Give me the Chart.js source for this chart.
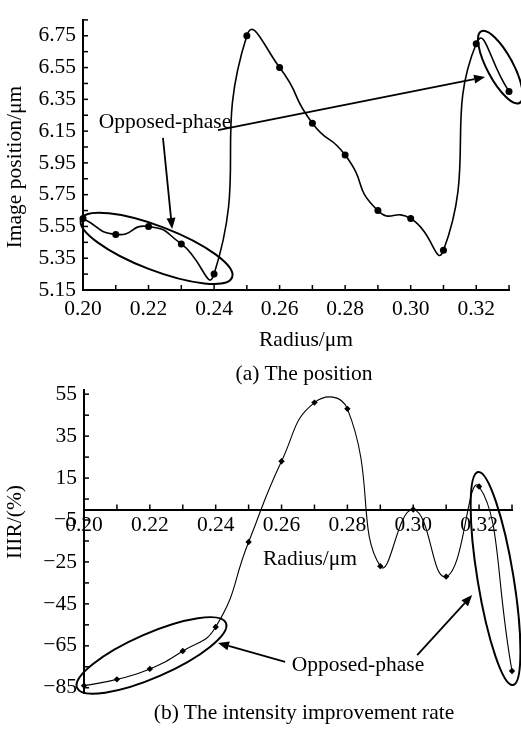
<!DOCTYPE html>
<html>
<head>
<meta charset="utf-8">
<script src="https://cdn.jsdelivr.net/npm/chart.js@4.4.0/dist/chart.umd.min.js"></script>
<style>
  body { margin: 0; background: #fff; }
  #wrap { position: relative; width: 521px; height: 733px; font-family: "Liberation Serif", "Times New Roman", serif; }
  canvas { position: absolute; left: 0; }
  #posChart { top: 0; }
  #iirChart { top: 370px; }
  .cap { position: absolute; font-size: 21.5px; line-height: 24px; white-space: nowrap; transform: translateX(-50%); z-index: 2; }
</style>
</head>
<body>
<div id="wrap">
  <canvas id="posChart" width="521" height="370"></canvas>
  <canvas id="iirChart" width="521" height="363"></canvas>
  <div class="cap" style="left:304px; top:361px;">(a) The position</div>
  <div class="cap" style="left:304px; top:700px;">(b) The intensity improvement rate</div>
</div>
<script>
// --- data ---
const radius = [0.20, 0.21, 0.22, 0.23, 0.24, 0.25, 0.26, 0.27, 0.28, 0.29, 0.30, 0.31, 0.32, 0.33];
const imagePosition = [5.60, 5.50, 5.55, 5.44, 5.25, 6.75, 6.55, 6.20, 6.00, 5.65, 5.60, 5.40, 6.70, 6.40];
const iirValues = [-84, -81, -76, -67.5, -56, -15.5, 23, 51, 48, -27, 0, -32, 11, -77];

const radiusTicks = [0.20, 0.21, 0.22, 0.23, 0.24, 0.25, 0.26, 0.27, 0.28, 0.29, 0.30, 0.31, 0.32, 0.33];
const positionTicks = [5.15, 5.25, 5.35, 5.45, 5.55, 5.65, 5.75, 5.85, 5.95, 6.05, 6.15, 6.25, 6.35, 6.45, 6.55, 6.65, 6.75, 6.85];
const iirTicks = [-85, -75, -65, -55, -45, -35, -25, -15, -5, 5, 15, 25, 35, 45, 55];

const FONT = '"Liberation Serif", "Times New Roman", serif';
const FONT_SIZE = 21.5;
Chart.defaults.font.family = FONT;
Chart.defaults.font.size = FONT_SIZE;
Chart.defaults.color = "#000";

const toPoints = (xs, ys) => xs.map((x, i) => ({ x, y: ys[i] }));
const radiusLabel = (v) => (Math.round(v * 100) % 2 === 0 ? v.toFixed(2) : "");

// --- inward tick marks, axis titles, ellipses and arrows ---
const notesPlugin = {
  id: "notes",
  afterDraw(chart, args, opts) {
    const { ctx, chartArea, scales } = chart;
    const xs = scales.x, ys = scales.y;
    const px = (p) => [xs.getPixelForValue(p[0]), ys.getPixelForValue(p[1])];
    ctx.save();
    ctx.strokeStyle = "#000";
    ctx.fillStyle = "#000";

    // ticks
    ctx.lineWidth = 1.5;
    const axisY = opts.xAxisAt === undefined ? chartArea.bottom : ys.getPixelForValue(opts.xAxisAt);
    xs.ticks.forEach((t) => {
      const x = xs.getPixelForValue(t.value);
      ctx.beginPath(); ctx.moveTo(x, axisY); ctx.lineTo(x, axisY - 5); ctx.stroke();
    });
    ys.ticks.forEach((t) => {
      const y = ys.getPixelForValue(t.value);
      ctx.beginPath(); ctx.moveTo(chartArea.left, y); ctx.lineTo(chartArea.left + 5, y); ctx.stroke();
    });

    // ellipses
    ctx.lineWidth = 2;
    (opts.ellipses || []).forEach((e) => {
      const [x1, y1] = px(e.from), [x2, y2] = px(e.to);
      const a = Math.hypot(x2 - x1, y2 - y1) / 2;
      ctx.beginPath();
      ctx.ellipse((x1 + x2) / 2, (y1 + y2) / 2, a, e.minor, Math.atan2(y2 - y1, x2 - x1), 0, Math.PI * 2);
      ctx.stroke();
    });

    // arrows
    ctx.lineWidth = 1.8;
    (opts.arrows || []).forEach((a) => {
      const [x1, y1] = px(a.from), [x2, y2] = px(a.to);
      const ang = Math.atan2(y2 - y1, x2 - x1);
      const hx = x2 - 11 * Math.cos(ang), hy = y2 - 11 * Math.sin(ang);
      ctx.beginPath(); ctx.moveTo(x1, y1); ctx.lineTo(hx, hy); ctx.stroke();
      ctx.beginPath();
      ctx.moveTo(x2, y2);
      ctx.lineTo(hx + 4.5 * Math.sin(ang), hy - 4.5 * Math.cos(ang));
      ctx.lineTo(hx - 4.5 * Math.sin(ang), hy + 4.5 * Math.cos(ang));
      ctx.closePath(); ctx.fill();
    });

    // texts
    ctx.font = FONT_SIZE + "px " + FONT;
    ctx.textAlign = "center";
    ctx.textBaseline = "middle";
    (opts.labels || []).forEach((l) => {
      const [x, y] = px(l.at);
      ctx.fillText(l.text, x, y);
    });
    (opts.titles || []).forEach((t) => {
      ctx.save();
      ctx.translate(t.x, t.y);
      if (t.vertical) ctx.rotate(-Math.PI / 2);
      ctx.fillText(t.text, 0, 0);
      ctx.restore();
    });
    ctx.restore();
  },
};

const radiusAxis = (extra) => Object.assign({
  type: "linear",
  min: 0.20,
  max: 0.33,
  grid: { display: false, drawTicks: false },
  border: { display: true, color: "#000", width: 2 },
  afterBuildTicks: (s) => { s.ticks = radiusTicks.map((value) => ({ value })); },
}, extra);

// --- (a) image position ---
new Chart(document.getElementById("posChart"), {
  type: "line",
  data: {
    datasets: [{
      data: toPoints(radius, imagePosition),
      borderColor: "#000",
      borderWidth: 1.6,
      tension: 0.6,
      pointRadius: 3.5,
      pointBackgroundColor: "#000",
      pointBorderWidth: 0,
      clip: false,
    }],
  },
  options: {
    responsive: false,
    animation: false,
    events: [],
    layout: { padding: { top: 11, right: 12, left: 0, bottom: 0 } },
    elements: { line: { capBezierPoints: false } },
    plugins: {
      legend: { display: false },
      tooltip: { enabled: false },
      notes: {
        ellipses: [
          { from: [0.1994, 5.595], to: [0.2455, 5.229], minor: 22 },
          { from: [0.3215, 6.778], to: [0.3332, 6.327], minor: 13 },
        ],
        arrows: [
          { from: [0.2244, 6.107], to: [0.2272, 5.534] },
          { from: [0.2412, 6.156], to: [0.3227, 6.491] },
        ],
        labels: [{ text: "Opposed-phase", at: [0.2250, 6.205] }],
        titles: [
          { text: "Radius/\u03bcm", x: 306, y: 340 },
          { text: "Image position/\u03bcm", x: 15, y: 167, vertical: true },
        ],
      },
    },
    scales: {
      x: radiusAxis({
        position: "bottom",
        afterFit: (s) => { s.height = 80; },
        ticks: { autoSkip: false, maxRotation: 0, padding: 6, callback: radiusLabel },
      }),
      y: {
        type: "linear",
        min: 5.15,
        max: 6.85,
        grid: { display: false, drawTicks: false },
        border: { display: true, color: "#000", width: 2 },
        afterBuildTicks: (s) => { s.ticks = positionTicks.map((value) => ({ value })); },
        afterFit: (s) => { s.width = 83; },
        ticks: {
          autoSkip: false,
          padding: 7,
          callback: (v) => (Math.round((v - 5.15) * 10) % 2 === 0 ? v.toFixed(2) : ""),
        },
      },
    },
  },
  plugins: [notesPlugin],
});

// --- (b) intensity improvement rate ---
new Chart(document.getElementById("iirChart"), {
  type: "line",
  data: {
    datasets: [{
      data: toPoints(radius, iirValues),
      borderColor: "#000",
      borderWidth: 1.1,
      tension: 0.5,
      pointStyle: "rectRot",
      pointRadius: 3.2,
      pointBackgroundColor: "#000",
      pointBorderWidth: 0,
      clip: false,
    }],
  },
  options: {
    responsive: false,
    animation: false,
    events: [],
    layout: { padding: { top: 20, right: 9, left: 0, bottom: 40 } },
    elements: { line: { capBezierPoints: false } },
    plugins: {
      legend: { display: false },
      tooltip: { enabled: false },
      notes: {
        xAxisAt: 0,
        ellipses: [
          { from: [0.1979, -85.1], to: [0.2431, -54.1], minor: 22 },
          { from: [0.3197, 17.9], to: [0.3303, -83.7], minor: 18 },
        ],
        arrows: [
          { from: [0.2611, -72.7], to: [0.2407, -63.6] },
          { from: [0.3012, -69.4], to: [0.3179, -40.8] },
        ],
        labels: [{ text: "Opposed-phase", at: [0.2832, -74.1] }],
        titles: [
          { text: "Radius/\u03bcm", x: 310, y: 189 },
          { text: "IIIR/(%)", x: 15, y: 152, vertical: true },
        ],
      },
    },
    scales: {
      x: radiusAxis({
        position: { y: 0 },
        ticks: { autoSkip: false, maxRotation: 0, padding: 3, callback: radiusLabel },
      }),
      y: {
        type: "linear",
        min: -87.5,
        max: 57,
        grid: { display: false, drawTicks: false },
        border: { display: true, color: "#000", width: 2 },
        afterBuildTicks: (s) => { s.ticks = iirTicks.map((value) => ({ value })); },
        afterFit: (s) => { s.width = 84; },
        ticks: {
          autoSkip: false,
          padding: 7,
          callback: (v) => (((v + 85) / 10) % 2 === 0 ? (v < 0 ? "\u2212" + Math.abs(v) : String(v)) : ""),
        },
      },
    },
  },
  plugins: [notesPlugin],
});
</script>
</body>
</html>
